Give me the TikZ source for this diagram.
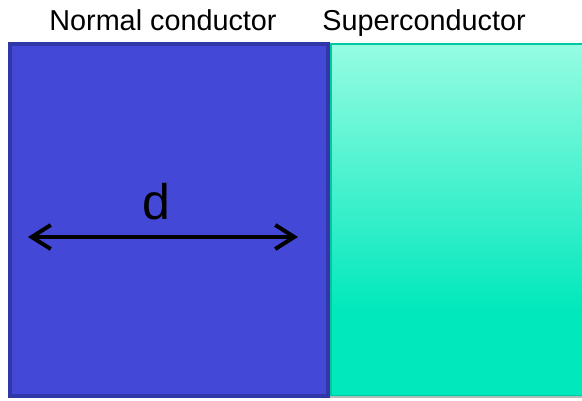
\documentclass[tikz,border=0pt]{standalone}
\usepackage{fontspec}
\setmainfont{Liberation Sans}
\usepackage{tikz}
\usetikzlibrary{positioning,arrows.meta,calc}

\definecolor{ncfill}{RGB}{67,73,214}
\definecolor{ncedge}{RGB}{50,55,168}
\definecolor{sctop}{RGB}{150,252,226}
\definecolor{scbot}{RGB}{0,232,188}
\definecolor{scedge}{RGB}{0,200,162}
\definecolor{scfoot}{RGB}{175,190,185}

% degradado: plano abajo, se aclara hacia arriba
\pgfdeclareverticalshading{scshade}{100bp}{color(0bp)=(scbot); color(37bp)=(scbot);
  color(75bp)=(sctop); color(100bp)=(sctop)}

\begin{document}
\begin{tikzpicture}[
  x=1pt,y=-1pt,
  >={Straight Barb[length=19pt,width=24pt,line width=4pt]},
  normal/.style={rectangle,draw=ncedge,fill=ncfill,line width=4pt,inner sep=0pt,
                 minimum width=318pt,minimum height=352pt},
  super/.style={rectangle,draw=scedge,shading=scshade,line width=2pt,
                inner sep=0pt,minimum width=252pt,minimum height=352pt},
  lab/.style={font=\fontsize{28.8}{33}\selectfont,anchor=base},
  width/.style={<->,line width=4pt,black}
]
  \useasboundingbox (0,0) rectangle (582,400);

  % ---------- Bloques ----------
  \node[super]  (sc) at (457,220) {};
  \draw[scfoot,line width=2pt] (sc.south west) -- (sc.south east);
  \node[normal] (nc) at (169,220) {};

  % etiquetas arriba
  \node[lab] (ncl) at (163,30) {Normal conductor};
  \node[lab] (scl) at (424,30) {Superconductor};

  % ---------- Espesor d ----------
  \coordinate (dl) at (28,237);
  \coordinate (dr) at (298,237);
  \draw[width] (dl) -- (dr);
  \node[font=\fontsize{50}{56}\selectfont,anchor=base] (d) at (156,219) {d};
\end{tikzpicture}
\end{document}
